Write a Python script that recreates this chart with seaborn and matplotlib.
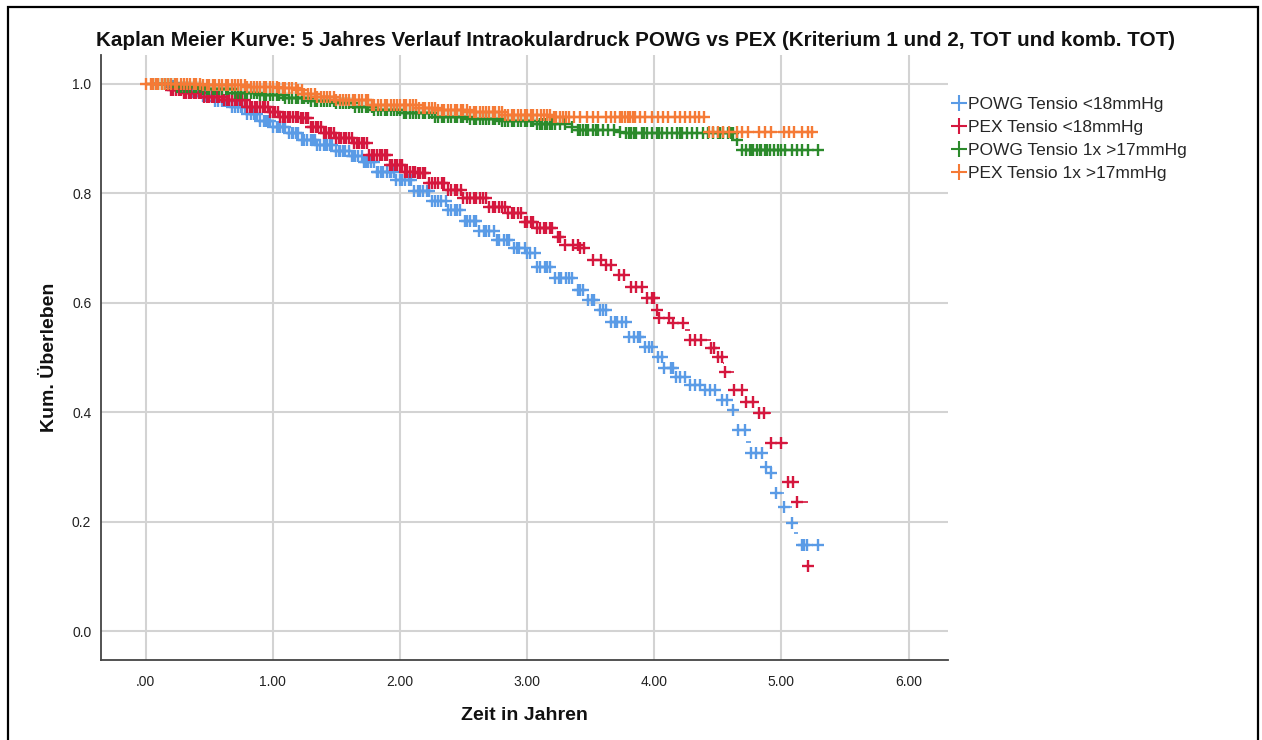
import numpy as np
import pandas as pd
import matplotlib
matplotlib.use("Agg")
import matplotlib.pyplot as plt
from matplotlib.lines import Line2D
from matplotlib.patches import Rectangle
import seaborn as sns

# ---- Kaplan-Meier step estimates (time in years, cumulative survival) ----
powg18_t = [0.00, 0.18, 0.25, 0.35, 0.44, 0.55, 0.68, 0.80, 0.90, 1.00, 1.12, 1.23, 1.35, 1.48,
            1.62, 1.72, 1.82, 1.97, 2.10, 2.25, 2.37, 2.50, 2.62, 2.76, 2.90, 3.00, 3.07, 3.20,
            3.37, 3.46, 3.55, 3.66, 3.80, 3.90, 3.99, 4.08, 4.16, 4.28, 4.39, 4.50, 4.58, 4.66,
            4.72, 4.76, 4.87, 4.90, 4.95, 5.02, 5.08, 5.10, 5.13, 5.29]
powg18_s = [1.000, 0.996, 0.992, 0.985, 0.978, 0.968, 0.958, 0.945, 0.932, 0.921, 0.910, 0.898,
            0.888, 0.878, 0.868, 0.858, 0.840, 0.824, 0.805, 0.786, 0.770, 0.750, 0.732, 0.715,
            0.700, 0.691, 0.665, 0.645, 0.623, 0.605, 0.587, 0.565, 0.537, 0.519, 0.501, 0.480,
            0.464, 0.450, 0.440, 0.422, 0.404, 0.367, 0.345, 0.325, 0.300, 0.289, 0.252, 0.227,
            0.197, 0.179, 0.157, 0.157]

pex18_t = [0.00, 0.15, 0.19, 0.30, 0.46, 0.61, 0.79, 0.97, 1.05, 1.21, 1.29, 1.40, 1.50, 1.64,
           1.76, 1.92, 2.03, 2.13, 2.23, 2.37, 2.50, 2.70, 2.84, 2.97, 3.07, 3.21, 3.29, 3.41,
           3.49, 3.62, 3.70, 3.80, 3.94, 4.02, 4.04, 4.13, 4.24, 4.28, 4.45, 4.50, 4.54, 4.55,
           4.63, 4.71, 4.82, 4.92, 5.05, 5.10, 5.21]
pex18_s = [1.000, 0.995, 0.989, 0.984, 0.976, 0.971, 0.958, 0.949, 0.940, 0.938, 0.921, 0.910,
           0.901, 0.892, 0.870, 0.852, 0.839, 0.837, 0.819, 0.806, 0.792, 0.775, 0.764, 0.748,
           0.737, 0.720, 0.706, 0.700, 0.678, 0.669, 0.651, 0.629, 0.609, 0.587, 0.572, 0.563,
           0.550, 0.532, 0.517, 0.501, 0.490, 0.473, 0.440, 0.419, 0.398, 0.344, 0.272, 0.236,
           0.118]

powg17_t = [0.00, 0.25, 0.45, 0.70, 0.90, 1.09, 1.30, 1.49, 1.65, 1.80, 2.01, 2.27, 2.55, 2.80,
            3.06, 3.33, 3.37, 3.72, 3.77, 4.64, 4.68, 5.29]
powg17_s = [1.000, 0.995, 0.990, 0.984, 0.979, 0.974, 0.969, 0.965, 0.958, 0.953, 0.947, 0.940,
            0.936, 0.932, 0.927, 0.921, 0.916, 0.912, 0.910, 0.898, 0.879, 0.879]

pex17_t = [0.00, 0.45, 0.80, 1.05, 1.19, 1.25, 1.35, 1.50, 1.76, 2.15, 2.29, 2.55, 2.81, 3.20,
           4.41, 5.24]
pex17_s = [1.000, 0.998, 0.995, 0.993, 0.989, 0.982, 0.976, 0.971, 0.962, 0.957, 0.952, 0.948,
           0.943, 0.940, 0.912, 0.912]

# ---- censoring times (years) ----
powg18_cens = [0.20, 0.22, 0.24, 0.26, 0.28, 0.30, 0.33, 0.35, 0.37, 0.40, 0.42, 0.43, 0.45, 0.47,
               0.50, 0.52, 0.53, 0.55, 0.57, 0.60, 0.62, 0.63, 0.66, 0.68, 0.70, 0.73, 0.75, 0.76,
               0.78, 0.80, 0.83, 0.85, 0.86, 0.88, 0.90, 0.93, 0.95, 0.96, 0.98, 1.00, 1.03, 1.05,
               1.06, 1.08, 1.10, 1.13, 1.15, 1.16, 1.18, 1.20, 1.23, 1.25, 1.27, 1.30, 1.32, 1.33,
               1.35, 1.37, 1.40, 1.42, 1.43, 1.45, 1.47, 1.50, 1.52, 1.53, 1.55, 1.57, 1.60, 1.62,
               1.63, 1.65, 1.67, 1.70, 1.72, 1.73, 1.75, 1.77, 1.80, 1.82, 1.83, 1.85, 1.87, 1.90,
               1.92, 1.93, 1.95, 1.97, 2.00, 2.02, 2.04, 2.07, 2.09, 2.11, 2.14, 2.16, 2.18, 2.21,
               2.23, 2.25, 2.28, 2.30, 2.32, 2.36, 2.38, 2.40, 2.43, 2.45, 2.47, 2.51, 2.53, 2.55,
               2.58, 2.60, 2.62, 2.66, 2.68, 2.70, 2.74, 2.76, 2.78, 2.82, 2.84, 2.86, 2.90, 2.92,
               2.94, 2.98, 3.00, 3.02, 3.06, 3.08, 3.10, 3.14, 3.16, 3.18, 3.22, 3.25, 3.27, 3.31,
               3.33, 3.35, 3.40, 3.42, 3.44, 3.48, 3.51, 3.53, 3.57, 3.60, 3.62, 3.66, 3.69, 3.71,
               3.75, 3.78, 3.80, 3.84, 3.87, 3.89, 3.93, 3.96, 3.98, 4.03, 4.06, 4.08, 4.13, 4.15,
               4.17, 4.20, 4.24, 4.28, 4.32, 4.36, 4.40, 4.44, 4.48, 4.53, 4.57, 4.62, 4.66, 4.71,
               4.76, 4.80, 4.85, 4.88, 4.92, 4.96, 5.02, 5.08, 5.16, 5.18, 5.20, 5.29]
pex18_cens = [0.20, 0.22, 0.24, 0.26, 0.28, 0.30, 0.32, 0.34, 0.36, 0.38, 0.40, 0.42, 0.44, 0.46,
              0.48, 0.50, 0.52, 0.54, 0.56, 0.58, 0.60, 0.62, 0.64, 0.66, 0.68, 0.70, 0.72, 0.74,
              0.76, 0.78, 0.80, 0.82, 0.84, 0.86, 0.88, 0.90, 0.92, 0.94, 0.96, 0.98, 1.00, 1.02,
              1.04, 1.06, 1.08, 1.10, 1.12, 1.14, 1.16, 1.18, 1.20, 1.22, 1.24, 1.26, 1.28, 1.30,
              1.32, 1.34, 1.36, 1.38, 1.40, 1.42, 1.44, 1.46, 1.48, 1.50, 1.52, 1.54, 1.56, 1.58,
              1.60, 1.62, 1.64, 1.66, 1.68, 1.70, 1.72, 1.74, 1.76, 1.78, 1.80, 1.82, 1.84, 1.86,
              1.88, 1.90, 1.92, 1.94, 1.96, 1.98, 2.00, 2.02, 2.04, 2.06, 2.08, 2.10, 2.12, 2.14,
              2.16, 2.18, 2.20, 2.23, 2.25, 2.28, 2.30, 2.33, 2.35, 2.38, 2.40, 2.43, 2.45, 2.48,
              2.50, 2.53, 2.55, 2.58, 2.60, 2.63, 2.65, 2.68, 2.70, 2.73, 2.75, 2.78, 2.80, 2.83,
              2.85, 2.88, 2.90, 2.93, 2.95, 2.98, 3.00, 3.03, 3.05, 3.08, 3.10, 3.13, 3.15, 3.18,
              3.20, 3.24, 3.26, 3.30, 3.36, 3.40, 3.42, 3.45, 3.52, 3.58, 3.62, 3.66, 3.72, 3.76,
              3.82, 3.86, 3.90, 3.94, 3.98, 4.00, 4.02, 4.04, 4.12, 4.15, 4.23, 4.28, 4.32, 4.37,
              4.45, 4.47, 4.50, 4.53, 4.56, 4.63, 4.69, 4.72, 4.78, 4.82, 4.86, 4.92, 5.00, 5.05,
              5.09, 5.12, 5.21]
powg17_cens = [0.05, 0.08, 0.10, 0.13, 0.15, 0.18, 0.20, 0.23, 0.25, 0.28, 0.30, 0.33, 0.35, 0.38,
               0.40, 0.43, 0.45, 0.48, 0.50, 0.53, 0.55, 0.58, 0.60, 0.63, 0.65, 0.68, 0.70, 0.73,
               0.75, 0.78, 0.80, 0.83, 0.85, 0.88, 0.90, 0.93, 0.95, 0.98, 1.00, 1.03, 1.05, 1.08,
               1.10, 1.13, 1.15, 1.18, 1.20, 1.23, 1.25, 1.28, 1.30, 1.33, 1.35, 1.38, 1.40, 1.43,
               1.45, 1.48, 1.50, 1.53, 1.55, 1.58, 1.60, 1.63, 1.65, 1.68, 1.70, 1.73, 1.75, 1.78,
               1.80, 1.83, 1.85, 1.88, 1.90, 1.93, 1.95, 1.98, 2.00, 2.03, 2.05, 2.08, 2.10, 2.13,
               2.15, 2.18, 2.20, 2.23, 2.25, 2.28, 2.30, 2.33, 2.35, 2.38, 2.40, 2.43, 2.45, 2.48,
               2.50, 2.53, 2.55, 2.58, 2.60, 2.63, 2.65, 2.68, 2.70, 2.73, 2.75, 2.78, 2.80, 2.83,
               2.85, 2.88, 2.90, 2.93, 2.95, 2.98, 3.00, 3.03, 3.05, 3.08, 3.10, 3.12, 3.14, 3.16,
               3.18, 3.20, 3.22, 3.26, 3.30, 3.35, 3.40, 3.42, 3.44, 3.46, 3.48, 3.52, 3.54, 3.56,
               3.60, 3.64, 3.68, 3.73, 3.78, 3.80, 3.82, 3.84, 3.86, 3.90, 3.92, 3.94, 3.98, 4.02,
               4.04, 4.06, 4.10, 4.14, 4.18, 4.20, 4.22, 4.26, 4.30, 4.34, 4.38, 4.42, 4.46, 4.50,
               4.52, 4.54, 4.58, 4.60, 4.62, 4.65, 4.69, 4.72, 4.75, 4.77, 4.78, 4.81, 4.83, 4.84,
               4.87, 4.89, 4.91, 4.94, 4.97, 5.00, 5.03, 5.08, 5.12, 5.16, 5.21, 5.29]
pex17_cens = [0.00, 0.04, 0.06, 0.08, 0.10, 0.13, 0.15, 0.18, 0.20, 0.23, 0.25, 0.28, 0.30, 0.33,
              0.35, 0.38, 0.40, 0.43, 0.45, 0.48, 0.50, 0.53, 0.55, 0.58, 0.60, 0.63, 0.65, 0.68,
              0.70, 0.73, 0.75, 0.78, 0.80, 0.83, 0.85, 0.88, 0.90, 0.93, 0.95, 0.98, 1.00, 1.03,
              1.05, 1.08, 1.10, 1.13, 1.15, 1.18, 1.20, 1.23, 1.25, 1.28, 1.30, 1.33, 1.35, 1.38,
              1.40, 1.43, 1.45, 1.48, 1.50, 1.53, 1.55, 1.58, 1.60, 1.63, 1.65, 1.68, 1.70, 1.73,
              1.75, 1.78, 1.80, 1.83, 1.85, 1.88, 1.90, 1.93, 1.95, 1.98, 2.00, 2.03, 2.05, 2.08,
              2.10, 2.13, 2.15, 2.18, 2.20, 2.23, 2.25, 2.28, 2.30, 2.33, 2.35, 2.38, 2.40, 2.43,
              2.45, 2.48, 2.50, 2.53, 2.55, 2.58, 2.60, 2.63, 2.65, 2.68, 2.70, 2.73, 2.75, 2.78,
              2.80, 2.83, 2.85, 2.88, 2.90, 2.93, 2.95, 2.98, 3.00, 3.03, 3.05, 3.08, 3.11, 3.13,
              3.16, 3.18, 3.21, 3.23, 3.26, 3.28, 3.31, 3.33, 3.37, 3.42, 3.47, 3.52, 3.56, 3.62,
              3.66, 3.69, 3.73, 3.75, 3.77, 3.79, 3.81, 3.83, 3.85, 3.89, 3.93, 3.98, 4.03, 4.07,
              4.11, 4.16, 4.20, 4.24, 4.28, 4.32, 4.35, 4.39, 4.43, 4.46, 4.50, 4.54, 4.59, 4.65,
              4.69, 4.74, 4.82, 4.87, 4.92, 5.02, 5.06, 5.10, 5.16, 5.21, 5.24]

groups = ["POWG Tensio <18mmHg", "PEX Tensio <18mmHg",
          "POWG Tensio 1x >17mmHg", "PEX Tensio 1x >17mmHg"]
colors = ["#5a9be6", "#d5173e", "#2b8a2b", "#f57a36"]
x_ticks = [0, 1, 2, 3, 4, 5, 6]
x_tick_labels = [".00", "1.00", "2.00", "3.00", "4.00", "5.00", "6.00"]
y_ticks = [0.0, 0.2, 0.4, 0.6, 0.8, 1.0]
y_tick_labels = ["0.0", "0.2", "0.4", "0.6", "0.8", "1.0"]

steps = [(powg18_t, powg18_s), (pex18_t, pex18_s), (powg17_t, powg17_s), (pex17_t, pex17_s)]
censors = [powg18_cens, pex18_cens, powg17_cens, pex17_cens]

cens_rows = []
for g, (t, s), c in zip(groups, steps, censors):
    t_arr, s_arr = np.asarray(t), np.asarray(s)
    # censored cases sit on the step function at their censoring time
    idx = np.searchsorted(t_arr, np.asarray(c), side="right") - 1
    for ci, si in zip(c, s_arr[idx]):
        cens_rows.append((g, ci, si))
cens_df = pd.DataFrame(cens_rows, columns=["gruppe", "zeit", "ueberleben"])

sns.set_theme(style="whitegrid")
plt.rcParams["font.family"] = ["Liberation Sans", "DejaVu Sans"]

fig = plt.figure(figsize=(12.62, 7.40), dpi=100)
ax = fig.add_axes([101 / 1262, 1 - 660 / 740, (948 - 101) / 1262, (660 - 55) / 740])

for g, col, (t, s) in zip(groups, colors, steps):
    # horizontal plateaus of the survival function
    ax.hlines(s[:-1], t[:-1], t[1:], colors=col, linewidth=1.2, zorder=2)
    sns.scatterplot(data=cens_df[cens_df.gruppe == g], x="zeit", y="ueberleben",
                    color=col, marker="+", s=80, linewidth=1.7, ax=ax, legend=False,
                    zorder=3)

ax.set_xlim(-0.35, 6.31)
ax.set_ylim(-0.053, 1.053)
ax.set_xticks(x_ticks)
ax.set_xticklabels(x_tick_labels)
ax.set_yticks(y_ticks)
ax.set_yticklabels(y_tick_labels)
ax.tick_params(axis="both", length=0, labelsize=10, colors="#222222")
ax.tick_params(axis="x", pad=11)
ax.tick_params(axis="y", pad=7)
ax.grid(True, color="#d3d3d3", linewidth=1.5)
ax.set_axisbelow(True)
ax.set_facecolor("white")
for side in ["top", "right"]:
    ax.spines[side].set_visible(False)
for side in ["left", "bottom"]:
    ax.spines[side].set_color("#444444")
    ax.spines[side].set_linewidth(1.3)

ax.set_xlabel("Zeit in Jahren", fontsize=14, fontweight="bold", color="#111111", labelpad=13)
ax.set_ylabel("Kum. Überleben", fontsize=14, fontweight="bold", color="#111111", labelpad=10)

fig.text(636 / 1262, 1 - 40 / 740,
         "Kaplan Meier Kurve: 5 Jahres Verlauf Intraokulardruck POWG vs PEX "
         "(Kriterium 1 und 2, TOT und komb. TOT)",
         ha="center", va="center", fontsize=14.9, fontweight="bold", color="#111111")

handles = [Line2D([], [], color=c, marker="+", markersize=11, markeredgewidth=1.5,
                  linewidth=1.4) for c in colors]
fig.legend(handles, groups, loc="upper left", bbox_to_anchor=(952 / 1262, 1 - 97 / 740),
           frameon=False, fontsize=12.5, handlelength=0.8, handletextpad=0.15,
           labelspacing=0.45, borderpad=0, borderaxespad=0)

# outer frame of the output panel
fig.add_artist(Rectangle((8 / 1262, -0.05), (1258 - 8) / 1262, 1.05 - 7 / 740,
                         transform=fig.transFigure, fill=False, edgecolor="black",
                         linewidth=1.6))

fig.savefig("out.png", dpi=100)
